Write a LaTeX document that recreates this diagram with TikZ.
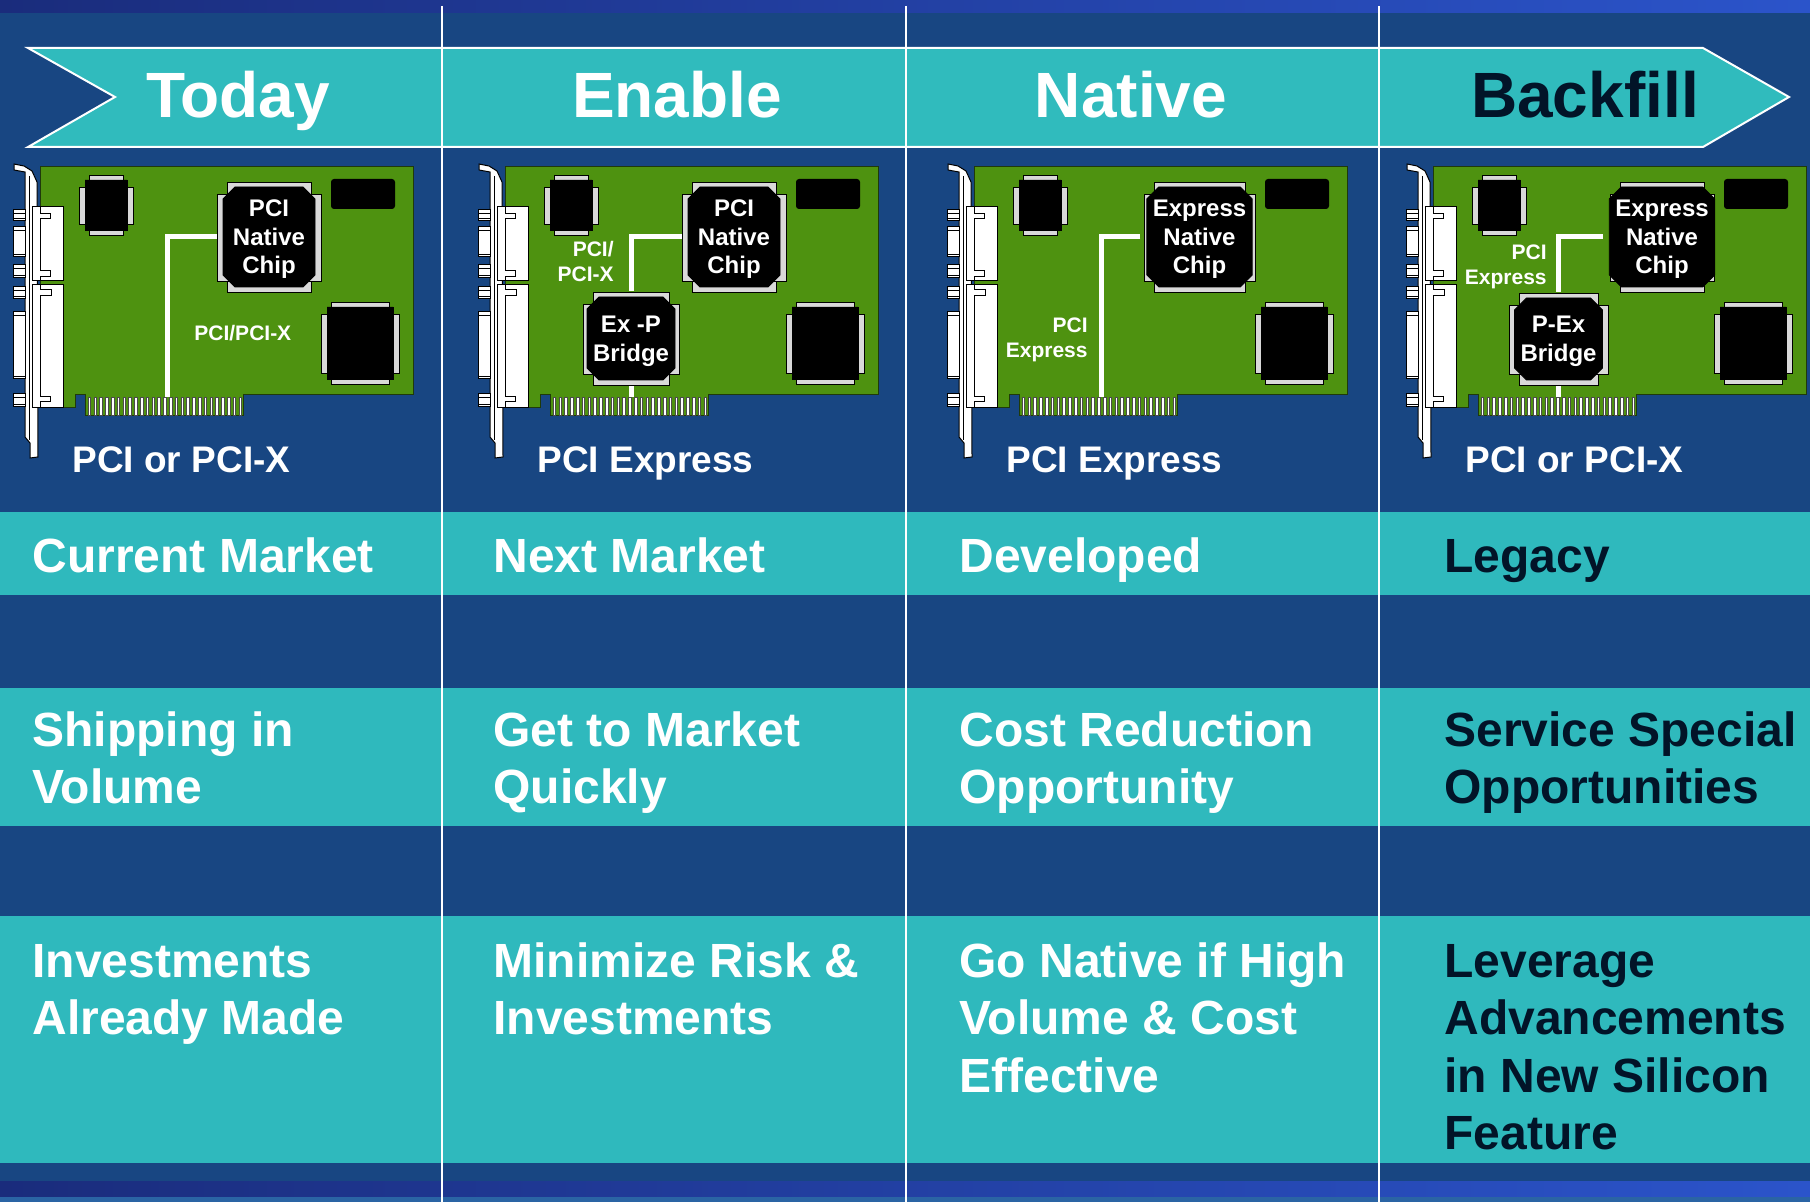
\documentclass[tikz,border=0pt]{standalone}
\usepackage{fontspec}
\setmainfont{Liberation Sans}
\usetikzlibrary{shapes.misc}

\definecolor{bgblue}{HTML}{184682}
\definecolor{bandteal}{HTML}{2FB9BD}
\definecolor{bannerA}{HTML}{30BBBD}
\definecolor{bannerB}{HTML}{1DA2C4}
\definecolor{stripeA}{HTML}{1A2C7C}
\definecolor{stripeB}{HTML}{2B54CA}
\definecolor{stripeC}{HTML}{2A64A4}
\definecolor{boardgreen}{HTML}{4E9210}
\definecolor{boardedge}{HTML}{1F3A0A}
\definecolor{pingrey}{HTML}{D9D9D9}
\definecolor{ink}{HTML}{021428}

% a chip: pin rows first, then the body on top
% #1 name, #2/#3 top left, #4/#5 bottom right, #6 text
\newcommand{\pcbchip}[6]{%
  \draw[pinbar] (#2+4,#3-5) rectangle (#4-4,#5+5);
  \draw[pinbar] (#2-6,#3+7) rectangle (#4+6,#5-6);
  \node[chipbody, minimum width={(#4-#2)*0.5pt}, minimum height={(#5-#3)*0.5pt}]
    (#1) at ({(#2+#4)/2},{(#3+#5)/2}) {#6};}

\begin{document}
\begin{tikzpicture}[x=0.5pt, y=-0.5pt,
    chipbody/.style={chamfered rectangle, chamfered rectangle xsep=3pt,
      chamfered rectangle ysep=3pt, fill=black, draw=black, text=white,
      inner sep=0pt, text depth=0pt, align=center,
      font=\fontsize{12}{14.25}\selectfont\bfseries},
    pinbar/.style={fill=pingrey, draw=black, line width=0.4pt},
    wire/.style={white, line width=2.5pt, shorten <=3pt},
    plate/.style={fill=white, draw=black, line width=0.5pt},
    board/.style={fill=boardgreen, draw=boardedge, line width=0.5pt},
    finger/.style={fill=white, draw=black!70, line width=0.3pt},
    boardtext/.style={text=white, font=\fontsize{10.5}{12.5}\selectfont\bfseries,
      align=right, anchor=base east, inner sep=0pt},
    cardtext/.style={text=white, font=\fontsize{18.5}{22}\selectfont\bfseries,
      anchor=base west, inner sep=0pt},
    headtext/.style={font=\fontsize{32}{38}\selectfont\bfseries, anchor=base, inner sep=0pt},
    bandtext/.style={font=\fontsize{24}{28.75}\selectfont\bfseries, align=left,
      anchor=base west, inner sep=0pt},
    sepline/.style={white, line width=1pt}
  ]
  \useasboundingbox (0,0) rectangle (1810,1202);

  % background, stripes and bands
  \fill[bgblue] (0,0) rectangle (1810,1202);
  \fill[left color=stripeA, right color=stripeB] (0,0) rectangle (1810,13);
  \fill[bandteal] (0,512) rectangle (1810,595);
  \fill[bandteal] (0,688) rectangle (1810,826);
  \fill[bandteal] (0,916) rectangle (1810,1163);
  \fill[left color=stripeA, right color=stripeB] (0,1181) rectangle (1810,1197);
  \fill[stripeC] (0,1197) rectangle (1810,1202);

  % the arrow banner
  \draw[white, line width=1pt, left color=bannerA, middle color=bannerB, right color=bannerA]
    (28,48) -- (1703,48) -- (1789,97) -- (1703,147) -- (28,147) -- (115,97) -- cycle;

  \foreach \sx in {442,906,1379}
    \draw[sepline] (\sx,6) -- (\sx,1202);

  % the adapter cards
  \foreach \cx/\i/\bus in {0/1/PCI or PCI-X, 465/2/PCI Express, 934/3/PCI Express, 1393/4/PCI or PCI-X}{
    \begin{scope}[shift={(\cx,0)}]
      % bracket and its sockets
      \draw[plate] (14,164) -- (24,166) -- (32,171) -- (37,182) -- (38,457) -- (30,458)
        -- (30,443) -- (25,437) -- (25,172) -- (14,170) -- cycle;
      \draw[line width=0.3pt] (29,176) -- (29,440);
      \foreach \ya/\yb in {210/221, 227/257, 265/278, 287/299, 312/379, 394/407}{
        \draw[plate] (13,\ya) rectangle (25,\yb);
        \draw[line width=0.3pt] (13,\ya+3) -- (25,\ya+3) (13,\yb-3) -- (25,\yb-3);
      }
      % board with edge fingers
      \draw[board] (40,167) -- (413,167) -- (413,395) -- (243,395) -- (243,416) -- (85,416)
        -- (85,395) -- (75,395) -- (75,408) -- (40,408) -- cycle;
      \foreach \k in {0,...,26}
        \draw[finger] ({88+\k*5.8},397) rectangle ++(2.6,18);
      \coordinate (gold\i) at (167,397);
      % connector housings
      \draw[plate] (32,207) rectangle (63,281);
      \draw[plate] (32,285) rectangle (63,408);
      \draw[line width=0.5pt] (40,207) -- (40,214) -- (50,214) -- (50,219) -- (40,219)
        -- (40,271) -- (50,271) -- (50,277) -- (40,277) -- (40,281);
      \draw[line width=0.5pt] (40,285) -- (40,290) -- (51,290) -- (51,296) -- (40,296)
        -- (40,397) -- (50,397) -- (50,402) -- (40,402) -- (40,408);
      % parts every card has
      \pcbchip{ram\i}{85}{180}{127}{230}{}
      \pcbchip{ctl\i}{327}{307}{393}{379}{}
      \node[fill=black, rounded corners=1.5pt, minimum width=32pt, minimum height=15pt,
        inner sep=0pt] (rom\i) at (363,194) {};
      \node[cardtext] (bus\i) at (72,473) {\bus};
    \end{scope}
  }

  % card 1
  \pcbchip{nat1}{223}{187}{315}{287}{PCI\\Native\\Chip}
  \draw[wire] (nat1.west) -| (gold1);
  \node[boardtext, align=left, anchor=base west] (link1) at (194,341) {PCI/PCI-X};

  % card 2
  \begin{scope}[shift={(465,0)}]
    \pcbchip{nat2}{223}{187}{315}{287}{PCI\\Native\\Chip}
    \pcbchip{br2}{124}{297}{208}{380}{Ex -P\\Bridge}
    \draw[wire, shorten >=3pt] (nat2.west) -| (br2.north);
    \draw[wire] (br2.south) -- (br2.south |- gold2);
    \node[boardtext] (link2) at (149,282) {PCI/\\PCI-X};
  \end{scope}

  % card 3
  \begin{scope}[shift={(934,0)}]
    \pcbchip{nat3}{216}{187}{315}{287}{Express\\Native\\Chip}
    \draw[wire] (nat3.west) -| (gold3);
    \node[boardtext] (link3) at (154,358) {PCI\\Express};
  \end{scope}

  % card 4
  \begin{scope}[shift={(1393,0)}]
    \pcbchip{nat4}{223}{187}{315}{287}{Express\\Native\\Chip}
    \pcbchip{br4}{122}{298}{209}{380}{P-Ex\\Bridge}
    \draw[wire, shorten >=3pt] (nat4.west) -| (br4.north);
    \draw[wire] (br4.south) -- (br4.south |- gold4);
    \node[boardtext] (link4) at (154,285) {PCI\\Express};
  \end{scope}

  % banner headings
  \node[headtext, text=white] (today) at (238,118) {Today};
  \node[headtext, text=white] (enable) at (677,118) {Enable};
  \node[headtext, text=white] (native) at (1131,118) {Native};
  \node[headtext, text=ink] (backfill) at (1585,118) {Backfill};

  % band texts (anchored on the last line)
  \node[bandtext, text=white] (mkt1) at (32,573) {Current Market};
  \node[bandtext, text=white] (mkt2) at (493,573) {Next Market};
  \node[bandtext, text=white] (mkt3) at (959,573) {Developed};
  \node[bandtext, text=ink] (mkt4) at (1444,573) {Legacy};

  \node[bandtext, text=white] (goal1) at (32,804) {Shipping in\\Volume};
  \node[bandtext, text=white] (goal2) at (493,804) {Get to Market\\Quickly};
  \node[bandtext, text=white] (goal3) at (959,804) {Cost Reduction\\Opportunity};
  \node[bandtext, text=ink] (goal4) at (1444,804) {Service Special\\Opportunities};

  \node[bandtext, text=white] (why1) at (32,1034.5) {Investments\\Already Made};
  \node[bandtext, text=white] (why2) at (493,1034.5) {Minimize Risk \&\\Investments};
  \node[bandtext, text=white] (why3) at (959,1092) {Go Native if High\\Volume \& Cost\\Effective};
  \node[bandtext, text=ink] (why4) at (1444,1149.5) {Leverage\\Advancements\\in New Silicon\\Feature};
\end{tikzpicture}
\end{document}
